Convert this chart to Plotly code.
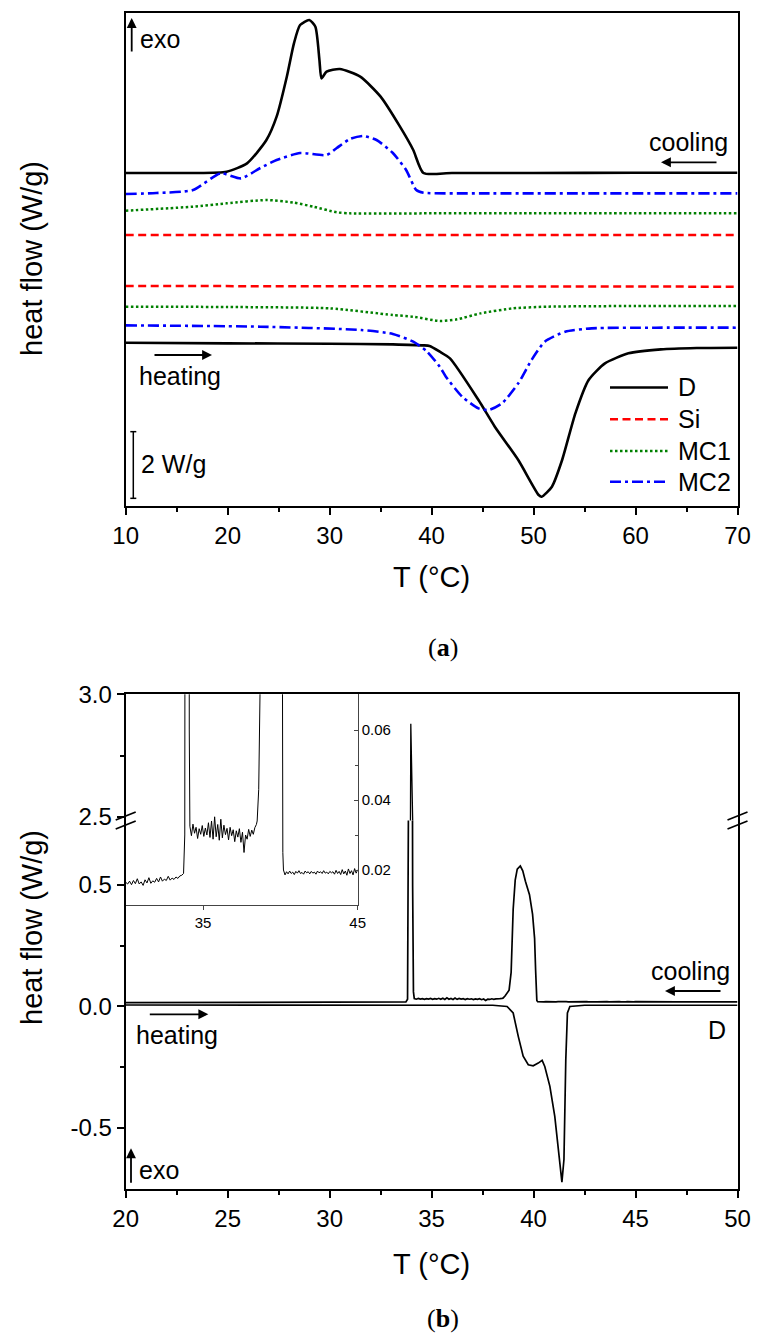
import plotly.graph_objects as go

# ---------------- panel (a): DSC traces, offset for clarity (W/g) ----------------
T_D_cool = [10, 14, 16.6, 19.9, 21.9, 23.8, 24.8, 25.8, 26.5, 27.1, 28.0, 28.6, 29.0, 29.2, 29.7, 31.0, 33.0, 35.0, 36.9, 38.2, 39.2, 42, 50, 60, 70]
HF_D_cool = [9.99, 9.99, 9.99, 10.03, 10.28, 10.98, 11.68, 12.88, 13.88, 14.43, 14.58, 14.38, 13.38, 12.83, 13.03, 13.11, 12.88, 12.28, 11.38, 10.68, 9.99, 9.99, 9.99, 10.0, 10.0]
T_D_heat = [10, 20, 30, 36.2, 39.2, 39.8, 40.8, 41.8, 44.6, 46.2, 48.5, 50.5, 50.8, 51.8, 52.8, 54.1, 55.4, 57.0, 59.3, 62.5, 66, 70]
HF_D_heat = [4.90, 4.88, 4.87, 4.85, 4.82, 4.80, 4.63, 4.43, 3.18, 2.38, 1.38, 0.33, 0.28, 0.58, 1.38, 2.78, 3.78, 4.28, 4.58, 4.70, 4.74, 4.75]

T_Si_cool = [10, 70]
HF_Si_cool = [8.13, 8.13]
T_Si_heat = [10, 70]
HF_Si_heat = [6.60, 6.58]

T_MC1_cool = [10, 16.6, 19.9, 23.8, 26.5, 28.4, 30.7, 32.0, 40, 50, 60, 70]
HF_MC1_cool = [8.86, 8.98, 9.08, 9.18, 9.10, 8.98, 8.81, 8.78, 8.78, 8.78, 8.78, 8.78]
T_MC1_heat = [10, 20, 30, 36.2, 38.2, 40.8, 42.5, 44.8, 48.0, 51.3, 60, 70]
HF_MC1_heat = [5.98, 5.97, 5.93, 5.73, 5.68, 5.55, 5.60, 5.78, 5.93, 5.98, 6.00, 6.00]

T_MC2_cool = [10, 13, 16.6, 19.3, 21.3, 23.2, 24.8, 27.1, 29.7, 30.7, 32.0, 33.3, 34.6, 36.2, 37.5, 38.5, 39.2, 45, 55, 70]
HF_MC2_cool = [9.36, 9.39, 9.48, 9.98, 9.83, 10.14, 10.38, 10.59, 10.53, 10.74, 11.01, 11.10, 10.98, 10.59, 10.08, 9.48, 9.40, 9.38, 9.38, 9.38]
T_MC2_heat = [10, 23.2, 33.1, 36.2, 38.2, 39.5, 40.8, 41.4, 43.0, 44.6, 45.6, 46.9, 48.5, 49.8, 51.1, 53.1, 55.7, 62, 70]
HF_MC2_heat = [5.42, 5.38, 5.28, 5.16, 4.93, 4.65, 4.18, 3.88, 3.28, 2.93, 2.88, 3.08, 3.68, 4.38, 4.93, 5.23, 5.33, 5.35, 5.35]

SERIES_A = ["D", "Si", "MC1", "MC2"]
X_TICKS_A = [10, 20, 30, 40, 50, 60, 70]

# ---------------- panel (b): sample D, heat flow (W/g) ----------------
# cooling run: sparse baseline, then noisy stretches
T_cool_lo = [20, 22, 24, 26, 28, 29.5]
HF_cool_lo = [0.0155, 0.0158, 0.0156, 0.0160, 0.0158, 0.0161]
# 30.0 .. 33.625 (step 0.125)
HF_cool_n1 = [0.0165, 0.0160, 0.0168, 0.0158, 0.0170, 0.0161, 0.0175, 0.0160, 0.0166, 0.0156,
              0.0172, 0.0163, 0.0178, 0.0162, 0.0169, 0.0165, 0.0176, 0.0166, 0.0180, 0.0168,
              0.0174, 0.0170, 0.0182, 0.0171, 0.0177, 0.0173, 0.0180, 0.0176, 0.0183, 0.0185]
T_cool_spike = [33.74, 33.82, 33.87, 33.92, 33.98, 34.03, 34.07, 34.11]
HF_cool_spike = [0.019, 0.030, 0.30, 1.5, 2.88, 2.2, 0.5, 0.06]
# 34.15 .. 38.45 (step 0.1)
HF_cool_n2 = [0.0325, 0.0298, 0.0331, 0.0305, 0.0322, 0.0290, 0.0318, 0.0302, 0.0327, 0.0296,
              0.0320, 0.0300, 0.0335, 0.0293, 0.0340, 0.0288, 0.0352, 0.0295, 0.0330, 0.0285,
              0.0345, 0.0292, 0.0328, 0.0301, 0.0319, 0.0286, 0.0322, 0.0298, 0.0315, 0.0281,
              0.0312, 0.0294, 0.0318, 0.0279, 0.0308, 0.0250, 0.0300, 0.0288, 0.0316, 0.0296,
              0.0314, 0.0302, 0.0321, 0.0330]
T_cool_peak = [38.5, 38.6, 38.7, 38.8, 38.9, 39.0, 39.1, 39.2, 39.35, 39.47, 39.6, 39.8, 39.95, 40.05, 40.1, 40.13, 40.16, 40.2]
HF_cool_peak = [0.034, 0.043, 0.054, 0.067, 0.14, 0.40, 0.52, 0.565, 0.578, 0.558, 0.515, 0.46, 0.38, 0.28, 0.15, 0.06, 0.025, 0.020]
# 40.3 .. 45.0 (step 0.1)
HF_cool_n3 = [0.0186, 0.0195, 0.0189, 0.0197, 0.0190, 0.0194, 0.0187, 0.0196, 0.0191, 0.0198,
              0.0190, 0.0193, 0.0188, 0.0197, 0.0192, 0.0195, 0.0189, 0.0196, 0.0191, 0.0194,
              0.0188, 0.0197, 0.0192, 0.0195, 0.0190, 0.0198, 0.0191, 0.0194, 0.0189, 0.0196,
              0.0192, 0.0195, 0.0188, 0.0199, 0.0190, 0.0196, 0.0187, 0.0201, 0.0189, 0.0197,
              0.0185, 0.0203, 0.0190, 0.0198, 0.0186, 0.0204, 0.0191, 0.0200]
T_cool_hi = [45.5, 47, 50]
HF_cool_hi = [0.0190, 0.0188, 0.0188]

T_heat_b = [20, 25, 30, 35, 38.0, 38.7, 39.0, 39.25, 39.49, 39.74, 39.98, 40.23, 40.42, 40.55, 40.8, 41.04, 41.29, 41.39, 41.49, 41.58, 41.66, 41.78, 42.5, 50]
HF_heat_b = [0.006, 0.006, 0.006, 0.006, 0.005, 0.0, -0.027, -0.123, -0.205, -0.240, -0.244, -0.233, -0.222, -0.247, -0.329, -0.452, -0.63, -0.723, -0.63, -0.219, -0.027, 0.0, 0.005, 0.005]

X_TICKS_B = [20, 25, 30, 35, 40, 45, 50]
Y_TICKS_B_LOW = [-0.5, 0.0, 0.5]
Y_TEXT_B_LOW = ["-0.5", "0.0", "0.5"]
Y_TICKS_B_UP = [2.5, 3.0]
Y_TEXT_B_UP = ["2.5", "3.0"]
X_TICKS_INSET = [35, 45]
Y_TICKS_INSET = [0.02, 0.04, 0.06]
Y_TEXT_INSET = ["0.02", "0.04", "0.06"]


def seg(t0, step, vals):
    return [round(t0 + i * step, 4) for i in range(len(vals))]


T_cool_b = (T_cool_lo + seg(30.0, 0.125, HF_cool_n1) + T_cool_spike + seg(34.15, 0.1, HF_cool_n2)
            + T_cool_peak + seg(40.3, 0.1, HF_cool_n3) + T_cool_hi)
HF_cool_b = HF_cool_lo + HF_cool_n1 + HF_cool_spike + HF_cool_n2 + HF_cool_peak + HF_cool_n3 + HF_cool_hi

# ---------------- layout helpers ----------------
W, H = 762, 1344
FONT = "Liberation Sans, Arial, Helvetica, sans-serif"
SERIF = "Liberation Serif, Times New Roman, serif"


def px(x):
    return x / W


def py(y):
    return 1 - y / H


XL, XR = px(125.7), px(737.5)

fig = go.Figure()

data_a = {
    "D": (T_D_cool, HF_D_cool, T_D_heat, HF_D_heat, "#000000", "solid", 2.6),
    "Si": (T_Si_cool, HF_Si_cool, T_Si_heat, HF_Si_heat, "#ff0000", "8px,4.5px", 2.5),
    "MC1": (T_MC1_cool, HF_MC1_cool, T_MC1_heat, HF_MC1_heat, "#008000", "2.5px,2.5px", 2.5),
    "MC2": (T_MC2_cool, HF_MC2_cool, T_MC2_heat, HF_MC2_heat, "#0000ff", "11px,4px,3px,4px", 2.6),
}
for name in SERIES_A:
    tc, hc, th, hh, col, dash, lw = data_a[name]
    line = dict(color=col, dash=dash, width=lw, shape="spline", smoothing=0.6)
    fig.add_trace(go.Scatter(x=tc, y=hc, mode="lines", name=name, legendgroup=name,
                             showlegend=False, line=line, xaxis="x", yaxis="y"))
    fig.add_trace(go.Scatter(x=th, y=hh, mode="lines", name=name, legendgroup=name,
                             showlegend=False, line=line, xaxis="x", yaxis="y"))

lb = dict(color="black", width=1.7)
fig.add_trace(go.Scatter(x=T_cool_b, y=HF_cool_b, mode="lines", line=lb, showlegend=False, xaxis="x3", yaxis="y3"))
fig.add_trace(go.Scatter(x=T_heat_b, y=HF_heat_b, mode="lines", line=lb, showlegend=False, xaxis="x3", yaxis="y3"))
fig.add_trace(go.Scatter(x=T_cool_b, y=HF_cool_b, mode="lines", line=dict(color="black", width=1.3),
                         showlegend=False, xaxis="x4", yaxis="y4"))
fig.add_trace(go.Scatter(x=T_cool_b, y=HF_cool_b, mode="lines", line=dict(color="black", width=1),
                         showlegend=False, xaxis="x5", yaxis="y5"))

tickfont = dict(family=FONT, size=24, color="black")
common = dict(showgrid=False, zeroline=False, linecolor="black", linewidth=2, tickcolor="black",
              tickwidth=2, tickfont=tickfont, automargin=False)

fig.update_layout(
    width=W, height=H, margin=dict(l=0, r=0, t=0, b=0, autoexpand=False),
    paper_bgcolor="white", plot_bgcolor="rgba(0,0,0,0)",
    font=dict(family=FONT, color="black"),
    showlegend=False,
    xaxis=dict(domain=[XL, XR], anchor="y", range=[10, 70], tickvals=X_TICKS_A, ticks="outside",
               ticklen=7, showline=True, mirror=True,
               minor=dict(dtick=5, tick0=10, ticks="outside", ticklen=4, tickwidth=2, tickcolor="black"),
               title=dict(text="T (°C)", font=dict(family=FONT, size=29), standoff=19), **common),
    yaxis=dict(domain=[py(506), py(12.7)], anchor="x", range=[0, 14.8], showticklabels=False,
               ticks="", showline=True, mirror=True, **common),
    xaxis3=dict(domain=[XL, XR], anchor="y3", range=[20, 50], tickvals=X_TICKS_B, ticks="outside",
                ticklen=7, showline=True, mirror=False,
                minor=dict(dtick=2.5, tick0=20, ticks="outside", ticklen=4, tickwidth=2, tickcolor="black"),
                title=dict(text="T (°C)", font=dict(family=FONT, size=29), standoff=23), **common),
    yaxis3=dict(domain=[py(1188.7), py(820.5)], anchor="x3", range=[-0.75, 0.7653],
                tickvals=Y_TICKS_B_LOW, ticktext=Y_TEXT_B_LOW, ticks="outside", ticklen=7,
                showline=True, mirror=True,
                minor=dict(tickvals=[-0.25, 0.25], ticks="outside", ticklen=4, tickwidth=2, tickcolor="black"),
                **common),
    xaxis4=dict(domain=[XL, XR], anchor="y4", matches="x3", side="top", showticklabels=False,
                ticks="", showline=True, mirror=False, **common),
    yaxis4=dict(domain=[py(820.5), py(694.3)], anchor="x4", range=[2.4857, 3.0],
                tickvals=Y_TICKS_B_UP, ticktext=Y_TEXT_B_UP, ticks="outside", ticklen=7,
                showline=True, mirror=True,
                minor=dict(tickvals=[2.75], ticks="outside", ticklen=4, tickwidth=2, tickcolor="black"),
                **common),
    xaxis5=dict(domain=[XL, px(357.7)], anchor="y5", range=[30, 45], tickvals=X_TICKS_INSET,
                ticks="outside", ticklen=4, tickwidth=1, tickcolor="#444", showline=True, linecolor="#444",
                linewidth=1, showgrid=False, zeroline=False, automargin=False,
                tickfont=dict(family=FONT, size=15, color="black")),
    yaxis5=dict(domain=[py(905), py(694.3)], anchor="x5", side="right", range=[0.01, 0.0702],
                tickvals=Y_TICKS_INSET, ticktext=Y_TEXT_INSET, ticks="inside", ticklen=4, tickwidth=1,
                tickcolor="#444", showline=True, linecolor="#444", linewidth=1, showgrid=False, zeroline=False,
                automargin=False,
                minor=dict(tickvals=[0.03, 0.05], ticks="inside", ticklen=3, tickwidth=1, tickcolor="#444"),
                tickfont=dict(family=FONT, size=15, color="black")),
)

ann = []
shapes = []
txt = dict(family=FONT, size=25, color="black")


def label(x, y, text, xanchor="center", font=txt, **kw):
    ann.append(dict(x=px(x), y=py(y), xref="paper", yref="paper", text=text, showarrow=False,
                    xanchor=xanchor, yanchor="middle", font=font, **kw))


def arrow(x, y, ax, ay):
    ann.append(dict(x=px(x), y=py(y), xref="paper", yref="paper", text="", showarrow=True,
                    ax=ax, ay=ay, axref="pixel", ayref="pixel", arrowhead=2, arrowsize=1.1,
                    arrowwidth=1.8, arrowcolor="black", standoff=0, startstandoff=0))


# y titles
label(32, 259, "heat flow (W/g)", font=dict(family=FONT, size=29, color="black"), textangle=-90)
label(32, 928, "heat flow (W/g)", font=dict(family=FONT, size=29, color="black"), textangle=-90)
# panel (a)
arrow(131.7, 18, 0, 35)
label(138, 39, "exo", xanchor="left")
label(688, 142, "cooling")
arrow(661, 162.3, 57, 0)
arrow(212, 355, -59, 0)
label(180, 376, "heating")
label(139, 464, "2 W/g", xanchor="left")
label(443, 647, "(<b>a</b>)", font=dict(family=SERIF, size=26, color="black"))
# legend of panel (a): sample line + name per series
for name, yrow in zip(SERIES_A, [387.5, 419.3, 451, 481.7]):
    col, dash, lw = data_a[name][4], data_a[name][5], data_a[name][6]
    shapes.append(dict(type="line", xref="paper", yref="paper", x0=px(610), x1=px(668),
                       y0=py(yrow), y1=py(yrow), line=dict(color=col, dash=dash, width=lw)))
    label(676, yrow, name, xanchor="left")
# panel (b)
label(690, 971, "cooling")
arrow(665, 991, 57, 0)
label(716.5, 1030, "D")
arrow(208.3, 1014.3, -60, 0)
label(177, 1035, "heating")
arrow(131, 1148.3, 0, 36)
label(137, 1170, "exo", xanchor="left")
label(443, 1318, "(<b>b</b>)", font=dict(family=SERIF, size=26, color="black"))
fig.update_layout(annotations=ann)

# 2 W/g scale bar in data units of panel (a)
shapes.append(dict(type="line", xref="paper", yref="y", x0=px(133.3), x1=px(133.3), y0=0.23, y1=2.23,
                   line=dict(color="black", width=1.5)))
for yb in (0.23, 2.23):
    shapes.append(dict(type="line", xref="paper", yref="y", x0=px(130.3), x1=px(136.3), y0=yb, y1=yb,
                       line=dict(color="black", width=1.5)))
# axis-break marks
for xc in (125.7, 737.5):
    for yc in (816, 825):
        shapes.append(dict(type="line", xref="paper", yref="paper", x0=px(xc - 10), x1=px(xc + 10),
                           y0=py(yc + 4), y1=py(yc - 4), line=dict(color="black", width=1.8)))
fig.update_layout(shapes=shapes)

fig.write_html("out.html", config={"displayModeBar": False},
               post_script="document.body.style.margin='0px';document.body.style.overflow='hidden';")
